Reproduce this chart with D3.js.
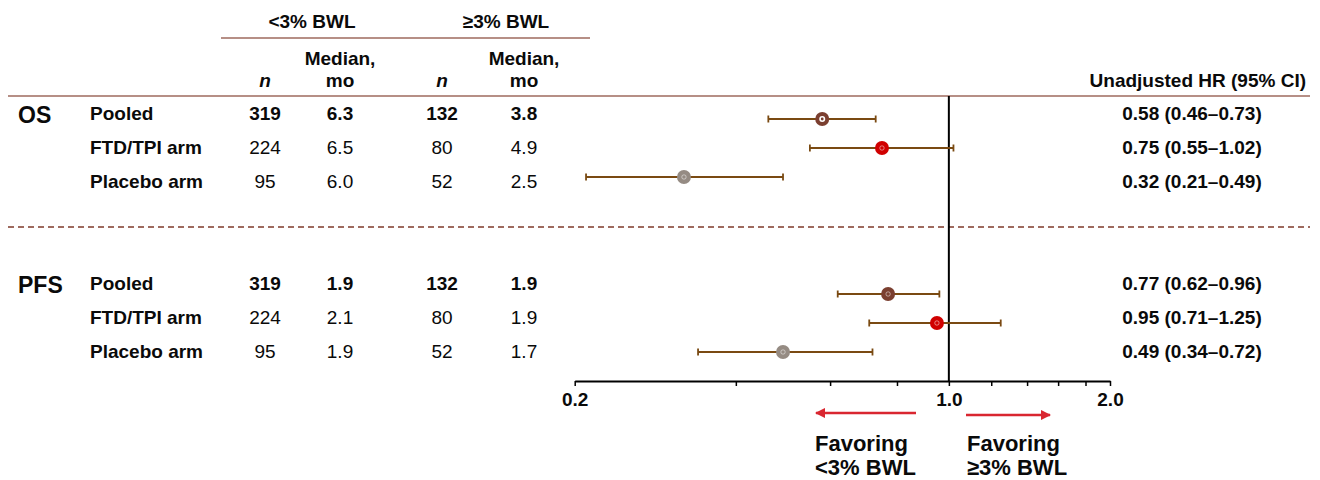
<!DOCTYPE html>
<html>
<head>
<meta charset="utf-8">
<script src="https://cdn.jsdelivr.net/npm/d3@7"></script>
<style>
  html, body { margin: 0; padding: 0; background: #fff; }
  svg { display: block; font-family: "Liberation Sans", Arial, Helvetica, sans-serif; }
</style>
</head>
<body>
<svg id="chart" width="1320" height="480"></svg>
<script>
// Endpoints and subgroups
const endpoints = ["OS", "PFS"];
const subgroups = ["Pooled", "FTD/TPI arm", "Placebo arm"];

// Table columns: n and median months for each weight-loss group
const nLow = [[319, 224, 95], [319, 224, 95]];
const medLow = [["6.3", "6.5", "6.0"], ["1.9", "2.1", "1.9"]];
const nHigh = [[132, 80, 52], [132, 80, 52]];
const medHigh = [["3.8", "4.9", "2.5"], ["1.9", "1.9", "1.7"]];

// Unadjusted hazard ratios with 95% CI
const hr = [[0.58, 0.75, 0.32], [0.77, 0.95, 0.49]];
const ciLow = [[0.46, 0.55, 0.21], [0.62, 0.71, 0.34]];
const ciHigh = [[0.73, 1.02, 0.49], [0.96, 1.25, 0.72]];

// Axis
const tickValues = [0.2, 0.4, 0.6, 0.8, 1.0, 1.2, 1.4, 1.6, 1.8, 2.0];
const tickLabels = ["0.2", "1.0", "2.0"];

const subgroupColors = ["#7b3f30", "#d00000", "#958b83"];
const barColor = "#7a4a12";
const ruleColor = "#9e6a5e";
const arrowColor = "#d92630";
const ink = "#0a0a0a";
const fs = 19;

const svg = d3.select("#chart");

const x = d3.scaleLog().domain([0.2, 2.0]).range([574.7, 1110]);

// Row positions: text rows and marker rows for each block
const textRow = d3.scalePoint().domain(subgroups).range([0, 68]);
const markRow = d3.scalePoint().domain(subgroups).range([0, 58]);
const textTop = [113, 283];
const markTop = [119, 294];

const fmt = v => v.toFixed(2);

// Column headers
const hdr = svg.append("g").attr("fill", ink).attr("font-weight", "bold").attr("font-size", fs);
hdr.append("text").attr("x", 312).attr("y", 28).attr("text-anchor", "middle").text("<3% BWL");
hdr.append("text").attr("x", 506).attr("y", 28).attr("text-anchor", "middle").text("≥3% BWL");
svg.append("line").attr("x1", 221).attr("x2", 590).attr("y1", 38).attr("y2", 38)
  .attr("stroke", ruleColor).attr("stroke-width", 1.5);

const cols = [265, 340, 442, 524];
[0, 2].forEach(i => {
  hdr.append("text").attr("x", cols[i]).attr("y", 87).attr("text-anchor", "middle")
    .attr("font-style", "italic").text("n");
});
[1, 3].forEach(i => {
  hdr.append("text").attr("x", cols[i]).attr("y", 65).attr("text-anchor", "middle").text("Median,");
  hdr.append("text").attr("x", cols[i]).attr("y", 87).attr("text-anchor", "middle").text("mo");
});
hdr.append("text").attr("x", 1306).attr("y", 87).attr("text-anchor", "end")
  .text("Unadjusted HR (95% CI)");

svg.append("line").attr("x1", 8).attr("x2", 1310).attr("y1", 96).attr("y2", 96)
  .attr("stroke", ruleColor).attr("stroke-width", 1.5);

// Dashed divider between the endpoint blocks
svg.append("line").attr("x1", 8).attr("x2", 1310).attr("y1", 227).attr("y2", 227)
  .attr("stroke", ruleColor).attr("stroke-width", 1.8).attr("stroke-dasharray", "6,4");

// Reference line at HR = 1
svg.append("line").attr("x1", x(1)).attr("x2", x(1)).attr("y1", 96).attr("y2", 381)
  .attr("stroke", "#000").attr("stroke-width", 2);

endpoints.forEach((ep, e) => {
  const g = svg.append("g");
  g.append("text").attr("x", 18).attr("y", textTop[e] + 10).attr("font-size", 23)
    .attr("font-weight", "bold").attr("fill", ink).text(ep);

  subgroups.forEach((sg, i) => {
    const ty = textTop[e] + textRow(sg) + 7;
    const bold = i === 0 ? "bold" : "normal";
    g.append("text").attr("x", 90).attr("y", ty).attr("font-size", fs)
      .attr("font-weight", "bold").attr("fill", ink).text(sg);
    [nLow[e][i], medLow[e][i], nHigh[e][i], medHigh[e][i]].forEach((v, c) => {
      g.append("text").attr("x", cols[c]).attr("y", ty).attr("text-anchor", "middle")
        .attr("font-size", fs).attr("font-weight", bold).attr("fill", ink).text(v);
    });
    g.append("text").attr("x", 1192).attr("y", ty).attr("text-anchor", "middle")
      .attr("font-size", fs).attr("font-weight", "bold").attr("fill", ink)
      .text(`${fmt(hr[e][i])} (${fmt(ciLow[e][i])}–${fmt(ciHigh[e][i])})`);

    // CI whisker with end caps
    const my = markTop[e] + markRow(sg);
    const x0 = x(ciLow[e][i]), x1 = x(ciHigh[e][i]);
    g.append("line").attr("x1", x0).attr("x2", x1).attr("y1", my).attr("y2", my)
      .attr("stroke", barColor).attr("stroke-width", 1.8);
    [x0, x1].forEach(cx => {
      g.append("line").attr("x1", cx).attr("x2", cx).attr("y1", my - 3.5).attr("y2", my + 3.5)
        .attr("stroke", barColor).attr("stroke-width", 1.8);
    });
    g.append("circle").attr("cx", x(hr[e][i])).attr("cy", my).attr("r", 7)
      .attr("fill", subgroupColors[i]);
    g.append("circle").attr("cx", x(hr[e][i])).attr("cy", my).attr("r", 2.2)
      .attr("fill", "none").attr("stroke", "#fff")
      .attr("stroke-width", e === 0 && i === 0 ? 1.6 : 0.8)
      .attr("opacity", e === 0 && i === 0 ? 1 : 0.6);
  });
});

// X axis (log scale)
const axis = d3.axisBottom(x).tickValues(tickValues).tickSize(5).tickSizeOuter(0)
  .tickFormat(d => {
    const s = d.toFixed(1);
    return tickLabels.includes(s) ? s : "";
  });
const ax = svg.append("g").attr("transform", "translate(0,381)").call(axis);
ax.select(".domain").attr("stroke", "#000").attr("stroke-width", 2);
ax.selectAll(".tick line").attr("stroke", "#000").attr("stroke-width", 1.5);
ax.selectAll(".tick text").attr("y", 25).attr("dy", null)
  .attr("font-family", "\"Liberation Sans\", Arial, sans-serif")
  .attr("font-size", 19).attr("font-weight", "bold").attr("fill", ink);

// Direction arrows and captions
const defs = svg.append("defs");
defs.append("marker").attr("id", "arrowHead").attr("viewBox", "0 0 10 10")
  .attr("refX", 9).attr("refY", 5).attr("markerWidth", 4.2).attr("markerHeight", 4.2)
  .attr("orient", "auto-start-reverse")
  .append("path").attr("d", "M0,0 L10,5 L0,10 Z").attr("fill", arrowColor);

svg.append("line").attr("x1", 916).attr("x2", 816).attr("y1", 413).attr("y2", 413)
  .attr("stroke", arrowColor).attr("stroke-width", 2.5).attr("marker-end", "url(#arrowHead)");
svg.append("line").attr("x1", 966).attr("x2", 1050).attr("y1", 415).attr("y2", 415)
  .attr("stroke", arrowColor).attr("stroke-width", 2.5).attr("marker-end", "url(#arrowHead)");

const cap = svg.append("g").attr("font-size", 22).attr("font-weight", "bold").attr("fill", ink);
cap.append("text").attr("x", 815).attr("y", 451).text("Favoring");
cap.append("text").attr("x", 815).attr("y", 475).text("<3% BWL");
cap.append("text").attr("x", 967).attr("y", 451).text("Favoring");
cap.append("text").attr("x", 967).attr("y", 475).text("≥3% BWL");
</script>
</body>
</html>
